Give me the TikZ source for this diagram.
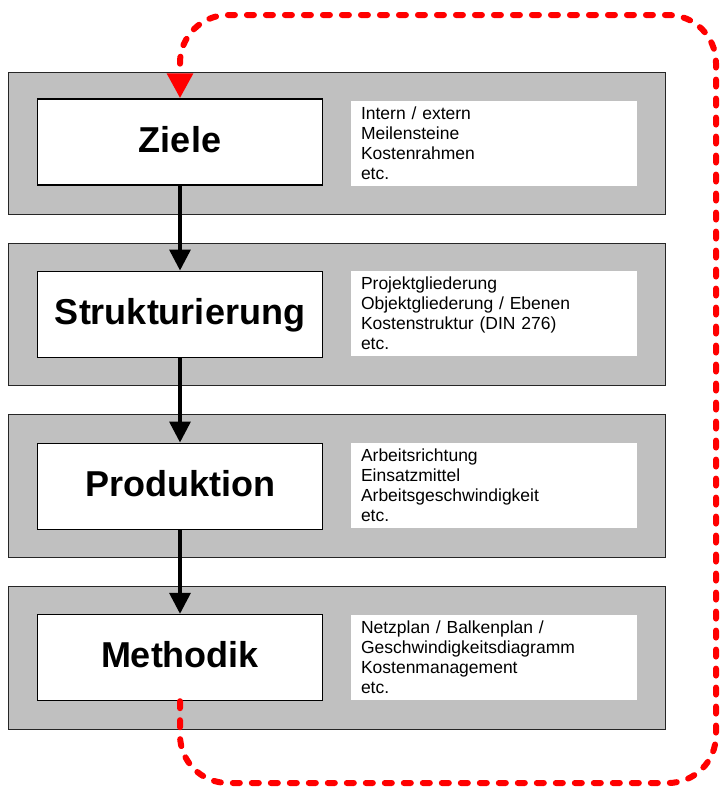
\documentclass[tikz,border=0pt]{standalone}
\usepackage{fontspec}
\setmainfont{Liberation Sans}
\usetikzlibrary{arrows.meta}
\definecolor{panelgray}{HTML}{C0C0C0}
\definecolor{loopred}{HTML}{FF0000}
\tikzset{
  panel/.style={draw=black!85, line width=1.4pt, fill=panelgray,
    minimum width=657pt, minimum height=142.5pt, inner sep=0pt},
  stagebox/.style={draw=black, line width=1.4pt, fill=white,
    minimum width=285.5pt, minimum height=86pt, inner sep=0pt,
    font=\fontsize{36}{40}\selectfont\bfseries,
    text height=26pt, text depth=6pt},
  notebox/.style={fill=white, inner xsep=10pt, inner ysep=0pt,
    text width=266pt, minimum height=85pt, align=left,
    font=\fontsize{17.5}{20}\selectfont},
  flow/.style={line width=3.5pt, -{Triangle[width=21pt,length=21pt]}},
  loopback/.style={draw=loopred, line width=6pt, line cap=round,
    dash pattern=on 7pt off 12pt, rounded corners=48pt,
    -{Triangle[width=25pt,length=25pt,line cap=butt]}},
}
\begin{document}
\begin{tikzpicture}[x=1pt, y=-1pt]
  \useasboundingbox (0,0) rectangle (720,790);

  % grey panels
  \node[panel] (p1) at (337,143.5) {};
  \node[panel] (p2) at (337,314.5) {};
  \node[panel] (p3) at (337,486) {};
  \node[panel] (p4) at (337,658) {};

  % stage boxes
  \node[stagebox] (ziele) at (180,142) {Ziele};
  \node[stagebox] (struk) at (180,314.2) {Strukturierung};
  \node[stagebox] (prod)  at (180,486.2) {Produktion};
  \node[stagebox] (meth)  at (180,657.5) {Methodik};

  % notes
  \node[notebox] (n1) at (494,143.5) {Intern / extern\\Meilensteine\\Kostenrahmen\\etc.};
  \node[notebox] (n2) at (494,313.5) {Projektgliederung\\Objektgliederung / Ebenen\\Kostenstruktur (DIN 276)\\etc.};
  \node[notebox] (n3) at (494,485.5) {Arbeitsrichtung\\Einsatzmittel\\Arbeitsgeschwindigkeit\\etc.};
  \node[notebox] (n4) at (494,657) {Netzplan / Balkenplan /\\Geschwindigkeitsdiagramm\\Kostenmanagement\\etc.};

  % sequence
  \draw[flow] (ziele.south) -- (struk.north);
  \draw[flow] (struk.south) -- (prod.north);
  \draw[flow] (prod.south) -- (meth.north);

  % feedback loop
  \coordinate (c1) at (180,783);
  \coordinate (c2) at (716,783);
  \coordinate (c3) at (716,15);
  \coordinate (c4) at (180,15);
  \draw[loopback] (meth.south) -- (c1) -- (c2) -- (c3) -- (c4) -- (ziele.north);
\end{tikzpicture}
\end{document}
